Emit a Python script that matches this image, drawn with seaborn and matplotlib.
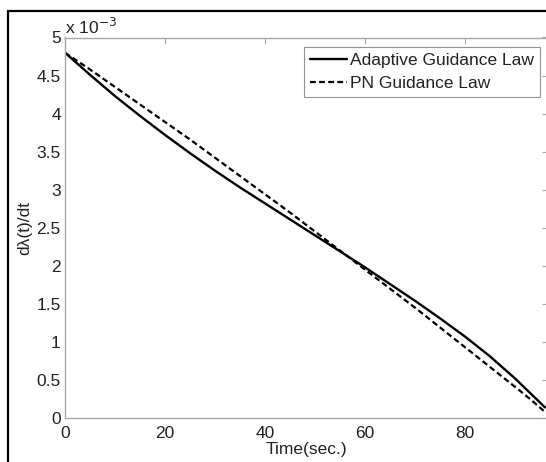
import numpy as np
import pandas as pd
import matplotlib
matplotlib.use("Agg")
import matplotlib.pyplot as plt
import seaborn as sns
from matplotlib.patches import Rectangle

sns.set_style("white")
plt.rcParams['font.family'] = ['Liberation Sans', 'DejaVu Sans']

# Data (values in units of 1e-3)
time = [0, 5, 10, 15, 20, 25, 30, 35, 40, 45, 50, 55, 60, 65, 70, 75, 80, 85, 90, 93, 96]
adaptive = [4.80, 4.51, 4.23, 3.97, 3.72, 3.48, 3.25, 3.03, 2.82, 2.61, 2.40, 2.19,
            1.98, 1.76, 1.54, 1.31, 1.07, 0.81, 0.52, 0.33, 0.14]
pn = [4.80, 4.58, 4.35, 4.12, 3.89, 3.66, 3.42, 3.18, 2.94, 2.70, 2.45, 2.20,
      1.95, 1.70, 1.45, 1.19, 0.93, 0.67, 0.41, 0.25, 0.08]
series_names = ["Adaptive Guidance Law", "PN Guidance Law"]
xticks = [0, 20, 40, 60, 80]
yticks = [0, 0.5, 1, 1.5, 2, 2.5, 3, 3.5, 4, 4.5, 5]

W, H = 546, 462
fig = plt.figure(figsize=(W / 100, H / 100), dpi=100)
ax_l, ax_r, ax_t, ax_b = 65, 548, 37.5, 418
ax = fig.add_axes([ax_l / W, 1 - ax_b / H, (ax_r - ax_l) / W, (ax_b - ax_t) / H])

df_a = pd.DataFrame({"t": time, "v": adaptive})
df_p = pd.DataFrame({"t": time, "v": pn})
sns.lineplot(data=df_a, x="t", y="v", ax=ax, color="black", lw=1.7,
             label=series_names[0])
sns.lineplot(data=df_p, x="t", y="v", ax=ax, color="black", lw=1.6,
             linestyle=(0, (2.6, 1.5)), label=series_names[1])

ax.set_xlim(0, 96.6)
ax.set_ylim(0, 5)
ax.set_xticks(xticks)
ax.set_yticks(yticks)
ax.set_xticklabels([str(x) for x in xticks])
ax.set_yticklabels([f"{y:g}" for y in yticks])

FS = 12.5
spine_col = "#a8a8a8"
for s in ax.spines.values():
    s.set_color(spine_col)
    s.set_linewidth(1.0)
ax.tick_params(direction="in", length=4, width=0.8, color=spine_col,
               labelsize=FS, labelcolor="#222222", top=True, right=True, pad=3)
ax.tick_params(axis="x", pad=5.5)

ax.set_xlabel("Time(sec.)", fontsize=FS, color="#222222", labelpad=1)
ax.set_ylabel("dλ(t)/dt", fontsize=FS, color="#222222", labelpad=3)

ax.text(0.0, 1.0, r"x 10$^{-3}$", transform=ax.transAxes, fontsize=FS,
        color="#222222", ha="left", va="bottom")

leg = ax.legend(loc="upper right",
                bbox_to_anchor=((540 - ax_l) / (ax_r - ax_l), 1 - (47 - ax_t) / (ax_b - ax_t)),
                frameon=True, fancybox=False, fontsize=FS, handlelength=2.1,
                handletextpad=0.2, borderpad=0.35, labelspacing=0.45, borderaxespad=0)
leg.get_frame().set_edgecolor("#777777")
leg.get_frame().set_linewidth(0.8)
for t in leg.get_texts():
    t.set_color("#222222")

# Outer black frame (cut off on right and bottom)
fig.patches.append(Rectangle((7.5 / W, -0.2), 1.2, 1.2 - 10.5 / H,
                             transform=fig.transFigure, fill=False,
                             edgecolor="black", linewidth=1.6, zorder=0))

fig.savefig("out.png", dpi=100)
